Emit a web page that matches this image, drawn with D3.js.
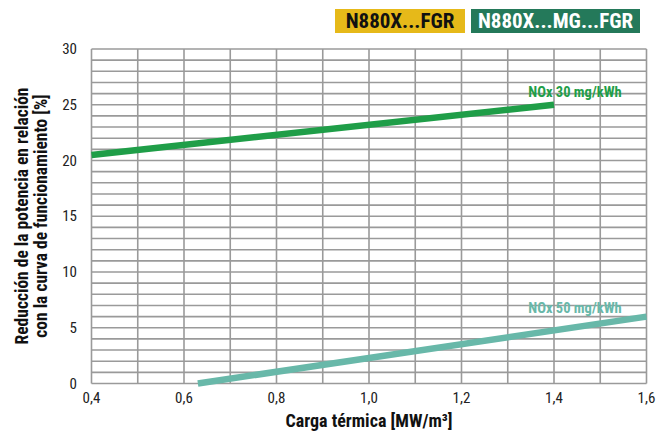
<!DOCTYPE html>
<html><head><meta charset="utf-8">
<script src="https://cdn.jsdelivr.net/npm/d3@7"></script>
<style>
body{margin:0;background:#fff;}
text{font-family:"Liberation Sans Narrow","Roboto Condensed","Liberation Sans",Arial,sans-serif;}
</style></head><body>
<svg id="c" width="664" height="434"></svg>
<script>
const xTicks = [0.4,0.6,0.8,1.0,1.2,1.4,1.6];
const yTicks = [0,5,10,15,20,25,30];
const seriesNames = ["NOx 30 mg/kWh","NOx 50 mg/kWh"];
const series30 = [[0.4,20.5],[1.4,25.0]];
const series50 = [[0.63,0.0],[1.6,6.0]];
const legendLabels = ["N880X...FGR","N880X...MG...FGR"];

const svg = d3.select("#c");
const x = d3.scaleLinear().domain([0.4,1.6]).range([91.5,646.5]);
const y = d3.scaleLinear().domain([0,30]).range([383.5,49]);
const grid = "#9a9a9a";

// grid
const g = svg.append("g");
g.selectAll(".hg").data(d3.range(0,31)).enter().append("line")
 .attr("x1",x(0.4)).attr("x2",x(1.6)).attr("y1",d=>y(d)).attr("y2",d=>y(d))
 .attr("stroke",grid).attr("stroke-width",1.6);
g.selectAll(".vg").data(d3.range(4,17).map(d=>d/10)).enter().append("line")
 .attr("x1",d=>x(d)).attr("x2",d=>x(d)).attr("y1",y(0)).attr("y2",y(30))
 .attr("stroke",grid).attr("stroke-width",1.6);

// ticks
const fmt = d=>d3.format(".1f")(d).replace(".",",");
svg.selectAll(".xt").data(xTicks).enter().append("text")
 .attr("x",d=>x(d)).attr("y",403).attr("text-anchor","middle")
 .attr("font-size",15).attr("fill","#222").text(fmt);
svg.selectAll(".yt").data(yTicks).enter().append("text")
 .attr("x",77).attr("y",d=>y(d)+5).attr("text-anchor","end")
 .attr("font-size",15).attr("fill","#222").text(d=>d);

// lines
const line = d3.line().x(d=>x(d[0])).y(d=>y(d[1]));
svg.append("path").attr("d",line(series30)).attr("fill","none")
 .attr("stroke","#1f9e48").attr("stroke-width",6.5);
svg.append("path").attr("d",line(series50)).attr("fill","none")
 .attr("stroke","#68b8a9").attr("stroke-width",6.5);

svg.append("text").attr("x",575).attr("y",97).attr("text-anchor","middle")
 .attr("font-size",14.5).attr("font-weight","bold").attr("fill","#1f9e48").text(seriesNames[0]);
svg.append("text").attr("x",575).attr("y",313).attr("text-anchor","middle")
 .attr("font-size",14.5).attr("font-weight","bold").attr("fill","#68b8a9").text(seriesNames[1]);

// axis titles
svg.append("text").attr("x",369).attr("y",427).attr("text-anchor","middle")
 .attr("font-size",18).attr("font-weight","bold").attr("fill","#111").text("Carga térmica [MW/m³]");
const yt = svg.append("text").attr("transform","translate(28,216) rotate(-90)")
 .attr("text-anchor","middle").attr("font-size",17.5).attr("font-weight","bold").attr("fill","#111");
yt.append("tspan").attr("x",0).attr("dy",0).text("Reducción de la potencia en relación");
yt.append("tspan").attr("x",0).attr("dy",19).text("con la curva de funcionamiento [%]");

// legend boxes
svg.append("rect").attr("x",335).attr("y",9).attr("width",130).attr("height",24).attr("fill","#e6b919");
svg.append("text").attr("x",400).attr("y",28).attr("text-anchor","middle").attr("font-size",21)
 .attr("font-weight","bold").attr("fill","#111").text(legendLabels[0]);
svg.append("rect").attr("x",471).attr("y",9).attr("width",169).attr("height",24).attr("fill","#24795a");
svg.append("text").attr("x",555.5).attr("y",28).attr("text-anchor","middle").attr("font-size",21)
 .attr("font-weight","bold").attr("fill","#fff").text(legendLabels[1]);
</script></body></html>
